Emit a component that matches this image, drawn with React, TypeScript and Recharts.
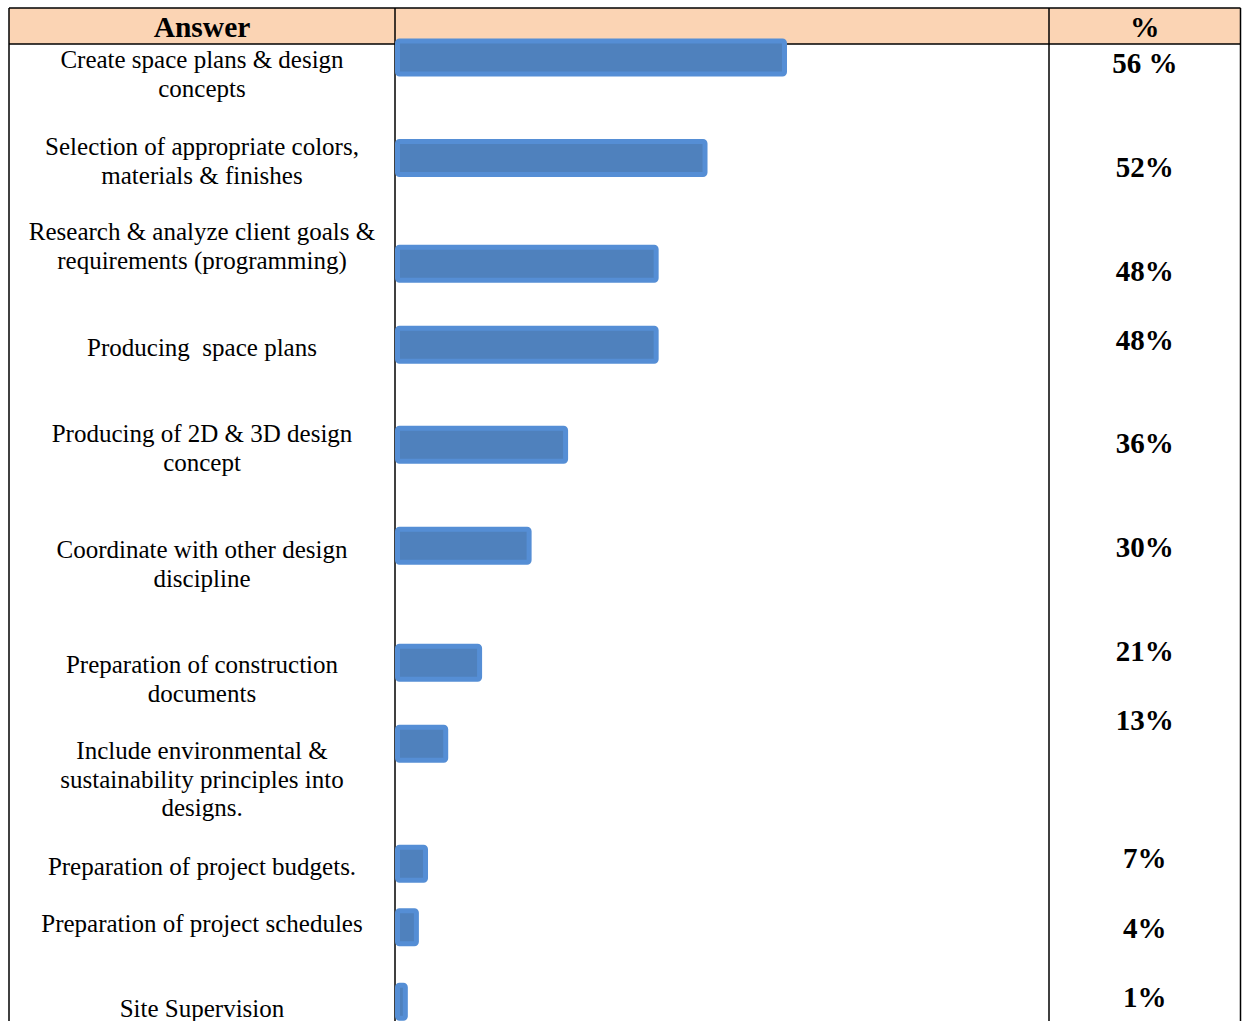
import React from 'react';
import { BarChart, Bar, XAxis, YAxis } from 'recharts';

// ---- data ----
const answers: string[][] = [
  ['Create space plans & design', 'concepts'],
  ['Selection of appropriate colors,', 'materials & finishes'],
  ['Research & analyze client goals &', 'requirements (programming)'],
  ['Producing  space plans'],
  ['Producing of 2D & 3D design', 'concept'],
  ['Coordinate with other design', 'discipline'],
  ['Preparation of construction', 'documents'],
  ['Include environmental &', 'sustainability principles into', 'designs.'],
  ['Preparation of project budgets.'],
  ['Preparation of project schedules'],
  ['Site Supervision'],
];
const percentLabels = ['56 %', '52%', '48%', '48%', '36%', '30%', '21%', '13%', '7%', '4%', '1%'];
// drawn bar length, in % of the middle column's width (as drawn in the picture)
const barLengths = [59.4, 47.2, 39.7, 39.7, 25.8, 20.2, 12.6, 7.4, 4.3, 2.9, 1.2];

// ---- layout (page coordinates / row units) ----
const BAR_ROWS = [0.497, 1.503, 2.56, 3.37, 4.37, 5.38, 6.55, 7.36, 8.56, 9.195, 9.94];
const LABEL_BASELINES = [68, 155, 240, 356, 442, 558, 673, 759, 875, 932, 1017];
const LINE_GAP = 28.6;
const PCT_BASELINES = [73, 177, 281, 350, 453, 557, 661, 730, 868, 938, 1007];

const PAGE_W = 1242;
const PAGE_H = 1021;
const LEFT = 9;
const RIGHT = 1240.5;
const TOP = 8;
const HEAD_BOTTOM = 44;
const COL1 = 395;
const COL2 = 1049;
const BAR_ORIGIN = 397.5;
const CHART_LEFT = 390;
const CHART_TOP = 8;
const CHART_H = 1013;
const FONT = '"Liberation Serif", "Times New Roman", serif';

const chartData = barLengths.map((v, i) => ({ row: BAR_ROWS[i], length: v }));

export default function App() {
  const chartWidth = COL2 - CHART_LEFT;
  return (
    <div
      style={{
        position: 'fixed',
        left: 0,
        top: 0,
        width: PAGE_W,
        height: PAGE_H,
        overflow: 'hidden',
        background: '#fff',
      }}
    >
      <style>{'html, body { overflow: hidden; }'}</style>
      <svg width={PAGE_W} height={PAGE_H} style={{ position: 'absolute', left: 0, top: 0 }}>
        <rect x={LEFT} y={TOP} width={RIGHT - LEFT} height={HEAD_BOTTOM - TOP} fill="#FBD4B4" />
        <g stroke="#000" strokeWidth={1.5} fill="none">
          <line x1={LEFT} y1={TOP} x2={RIGHT} y2={TOP} />
          <line x1={LEFT} y1={HEAD_BOTTOM} x2={RIGHT} y2={HEAD_BOTTOM} />
          <line x1={LEFT} y1={TOP} x2={LEFT} y2={PAGE_H} />
          <line x1={COL1} y1={TOP} x2={COL1} y2={PAGE_H} />
          <line x1={COL2} y1={TOP} x2={COL2} y2={PAGE_H} />
          <line x1={RIGHT} y1={TOP} x2={RIGHT} y2={PAGE_H} />
        </g>
        <text
          x={(LEFT + COL1) / 2}
          y={36.5}
          textAnchor="middle"
          fontFamily={FONT}
          fontWeight="bold"
          fontSize={29.5}
          fill="#000"
        >
          Answer
        </text>
        <text
          x={(COL2 + RIGHT) / 2}
          y={36.5}
          textAnchor="middle"
          fontFamily={FONT}
          fontWeight="bold"
          fontSize={29.5}
          fill="#000"
        >
          %
        </text>
        {answers.map((lines, i) => (
          <text
            key={i}
            textAnchor="middle"
            fontFamily={FONT}
            fontSize={25}
            fill="#000"
            style={{ whiteSpace: 'pre' }}
          >
            {lines.map((ln, j) => (
              <tspan key={j} x={(LEFT + COL1) / 2} y={LABEL_BASELINES[i] + j * LINE_GAP}>
                {ln}
              </tspan>
            ))}
          </text>
        ))}
        {percentLabels.map((p, i) => (
          <text
            key={i}
            x={(COL2 + RIGHT) / 2}
            y={PCT_BASELINES[i]}
            textAnchor="middle"
            fontFamily={FONT}
            fontWeight="bold"
            fontSize={29}
            fill="#000"
            style={{ whiteSpace: 'pre' }}
          >
            {p}
          </text>
        ))}
      </svg>
      <div style={{ position: 'absolute', left: CHART_LEFT, top: CHART_TOP }}>
        <BarChart
          width={chartWidth}
          height={CHART_H}
          data={chartData}
          layout="vertical"
          margin={{ top: 0, right: 0, bottom: 0, left: BAR_ORIGIN - CHART_LEFT }}
        >
          <XAxis type="number" dataKey="length" domain={[0, 100]} hide />
          <YAxis type="number" dataKey="row" domain={[0, CHART_H / 100]} hide />
          <Bar
            dataKey="length"
            barSize={33}
            fill="#4F81BD"
            stroke="#558ED5"
            strokeWidth={5}
            radius={2}
            isAnimationActive={false}
          />
        </BarChart>
      </div>
    </div>
  );
}
